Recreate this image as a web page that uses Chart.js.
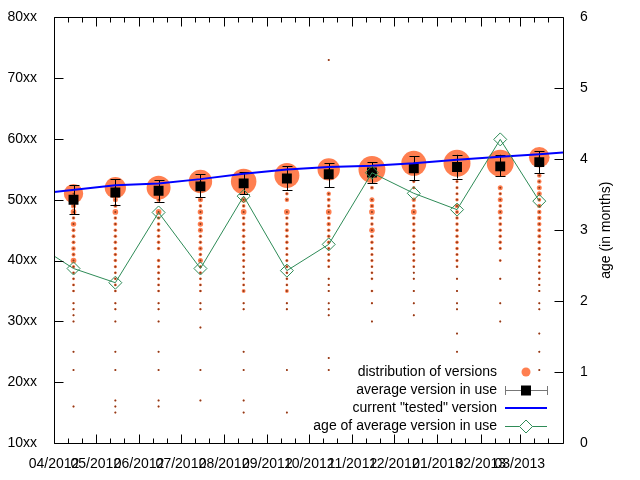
<!DOCTYPE html>
<html>
<head>
<meta charset="utf-8">
<script src="https://cdn.jsdelivr.net/npm/chart.js@4.4.0/dist/chart.umd.min.js"></script>
<style>
  html, body { margin: 0; padding: 0; background: #fff; }
</style>
</head>
<body>
<canvas id="chart" width="640" height="480"></canvas>
<script>
// x axis: one major tick per month
const monthStarts = ['2012-04-01', '2012-05-01', '2012-06-01', '2012-07-01', '2012-08-01', '2012-09-01',
  '2012-10-01', '2012-11-01', '2012-12-01', '2013-01-01', '2013-02-01', '2013-03-01'];
const monthLabels = ['04/2012', '05/2012', '06/2012', '07/2012', '08/2012', '09/2012',
  '10/2012', '11/2012', '12/2012', '01/2013', '02/2013', '03/2013'];

// one sample per month
const sampleDates = ['2012-04-15', '2012-05-15', '2012-06-15', '2012-07-15', '2012-08-15', '2012-09-15',
  '2012-10-15', '2012-11-15', '2012-12-15', '2013-01-15', '2013-02-15', '2013-03-15'];

// average version in use (+ spread)
const avgVersion = [50.0, 51.2, 51.5, 52.2, 52.7, 53.5, 54.2, 54.5, 55.2, 55.4, 55.5, 56.2];
const avgLow     = [47.6, 49.1, 49.7, 50.4, 50.9, 51.6, 52.1, 52.7, 53.2, 53.5, 53.9, 54.4];
const avgHigh    = [52.4, 53.4, 53.2, 54.2, 54.5, 55.5, 56.0, 56.2, 57.2, 57.4, 57.4, 58.0];

// age of average version in use (months), first sample lies left of the plot
const ageDates = ['2012-03-15'].concat(sampleDates);
const ageMonths = [2.85, 2.46, 2.26, 3.25, 2.46, 3.48, 2.43, 2.80, 3.81, 3.52, 3.29, 4.28, 3.41];

// current "tested" version
const testedDates = ['2012-04-01', '2012-05-15', '2012-06-15', '2012-07-15', '2012-08-15', '2012-09-15',
  '2012-10-15', '2012-11-15', '2012-12-15', '2013-01-15', '2013-02-15', '2013-03-15', '2013-04-01'];
const testedVersion = [51.3, 52.4, 52.7, 53.4, 54.3, 55.0, 55.4, 55.6, 56.0, 56.6, 57.1, 57.5, 57.8];

// distribution of versions per month: version and share
const distVersions = [
  [51, 50, 49, 48, 47, 46, 45, 44, 43, 42, 41, 40, 39, 38, 37, 36, 35, 33, 32, 31, 30, 25, 22, 16],
  [52, 50, 49, 48, 47, 46, 45, 44, 43, 42, 41, 40, 39, 38, 37, 36, 35, 33, 32, 30, 25, 22, 17, 16, 15],
  [52, 50, 48, 47, 46, 45, 44, 43, 42, 40, 39, 38, 37, 36, 35, 33, 32, 30, 25, 22, 17, 16],
  [53, 50, 49, 48, 47, 46, 45, 44, 43, 42, 41, 40, 39, 38, 37, 36, 35, 33, 32, 29, 22, 17],
  [53, 50, 49, 48, 47, 46, 45, 44, 43, 42, 41, 40, 39, 38, 37, 36, 35, 33, 32, 25, 22, 17, 15],
  [54, 51, 50, 48, 47, 46, 45, 44, 43, 42, 41, 40, 39, 38, 37, 36, 35, 33, 32, 22, 15],
  [73, 55, 51, 50, 49, 48, 47, 46, 45, 44, 43, 42, 41, 40, 39, 37, 36, 35, 33, 32, 31, 24, 22],
  [55, 52, 50, 49, 48, 47, 46, 45, 44, 43, 42, 41, 40, 39, 38, 37, 35, 33, 30],
  [56, 53, 52, 50, 49, 48, 47, 46, 45, 44, 43, 42, 41, 40, 39, 38, 37, 35, 33, 31],
  [56, 53, 52, 51, 50, 49, 48, 47, 46, 45, 44, 43, 42, 41, 40, 39, 37, 35, 33, 32, 28, 25],
  [56, 52, 51, 50, 49, 48, 47, 46, 45, 44, 43, 42, 40, 37, 33, 30],
  [57, 54, 53, 52, 51, 50, 49, 48, 47, 46, 45, 44, 43, 42, 41, 40, 39, 38, 37, 36, 35, 33, 32, 28, 25, 22]
];
const distShares = [
  [15, 1.3, 1.0, 1.3, 0.5, 1.2, 0.6, 0.6, 0.6, 0.8, 0.6, 1.3, 0.4, 0.3, 0.3, 0.3, 0.3, 0.2, 0.2, 0.15, 0.15, 0.1, 0.1, 0.1],
  [18, 1.0, 0.6, 1.3, 0.5, 0.6, 0.5, 0.5, 0.5, 0.5, 0.5, 0.5, 0.4, 0.3, 0.3, 0.3, 0.3, 0.2, 0.2, 0.15, 0.1, 0.1, 0.1, 0.1, 0.1],
  [23, 0.8, 1.3, 0.5, 0.5, 0.5, 0.5, 0.5, 0.5, 0.5, 0.4, 0.4, 0.3, 0.3, 0.3, 0.2, 0.2, 0.15, 0.1, 0.1, 0.1, 0.1],
  [22, 1.0, 0.5, 1.2, 0.6, 1.2, 1.0, 0.5, 0.5, 0.8, 0.5, 1.0, 0.4, 0.4, 0.3, 0.3, 0.3, 0.2, 0.2, 0.1, 0.1, 0.1],
  [26, 1.3, 0.5, 1.3, 0.5, 0.5, 0.5, 0.5, 0.5, 0.5, 0.4, 0.4, 0.3, 0.3, 0.3, 0.3, 0.6, 0.2, 0.2, 0.1, 0.1, 0.1, 0.1],
  [25, 0.5, 0.8, 1.3, 0.5, 0.5, 0.6, 0.5, 0.5, 0.4, 0.4, 0.4, 0.4, 0.3, 0.3, 0.3, 0.6, 0.2, 0.2, 0.1, 0.1],
  [0.1, 20, 0.8, 0.6, 0.5, 1.3, 0.5, 0.8, 0.5, 0.5, 0.5, 0.4, 0.4, 0.4, 0.3, 0.2, 0.2, 0.2, 0.15, 0.15, 0.15, 0.1, 0.1],
  [29, 0.6, 1.0, 0.8, 1.3, 0.5, 0.5, 1.2, 0.5, 0.5, 0.4, 0.4, 0.4, 0.3, 0.3, 0.3, 0.3, 0.2, 0.1],
  [25, 0.4, 0.4, 0.8, 0.5, 1.3, 0.5, 0.5, 0.5, 0.5, 0.4, 0.4, 0.3, 0.4, 0.3, 0.15, 0.2, 0.2, 0.15, 0.15],
  [29, 0.4, 0.4, 0.4, 0.5, 0.8, 0.6, 0.5, 0.5, 0.5, 0.5, 0.5, 0.5, 0.4, 0.4, 0.3, 0.2, 0.2, 0.15, 0.15, 0.1, 0.1],
  [29, 1.0, 0.5, 1.0, 0.5, 1.0, 0.5, 0.6, 0.5, 0.5, 0.5, 0.4, 0.3, 0.2, 0.15, 0.1],
  [17, 0.8, 0.8, 1.0, 1.0, 0.6, 0.8, 0.8, 0.8, 0.8, 0.6, 0.6, 0.5, 0.5, 0.4, 0.4, 0.3, 0.3, 0.3, 0.2, 0.2, 0.15, 0.15, 0.1, 0.1, 0.1]
];

const legendLabels = ['distribution of versions', 'average version in use',
  'current "tested" version', 'age of average version in use'];
const y2Title = 'age (in months)';

const CORAL = '#ff7f50';
const DOT = '#8b3a1a';
const GREEN = '#2e8b57';
const BLUE = '#0000ff';
const FONT = '14px "Liberation Sans", Arial, sans-serif';

const DAY0 = Date.UTC(2012, 3, 1);
function dayOf(s) {
  const [y, m, d] = s.split('-').map(Number);
  return (Date.UTC(y, m - 1, d) - DAY0) / 86400000;
}

// build point lists for the distribution
const distCircles = [];
const distDots = [];
sampleDates.forEach((d, i) => {
  const x = dayOf(d);
  distVersions[i].forEach((v, j) => {
    distCircles.push({ x, y: v, r: Math.max(0.9, 2.5 * Math.sqrt(distShares[i][j])) });
    distDots.push({ x, y: v });
  });
});

const avgPoints = sampleDates.map((d, i) => ({ x: dayOf(d), y: avgVersion[i] }));
const agePoints = ageDates.map((d, i) => ({ x: dayOf(d), y: ageMonths[i] }));
const testedPoints = testedDates.map((d, i) => ({ x: dayOf(d), y: testedVersion[i] }));

// error bars for the average version
const errorBars = {
  id: 'errorBars',
  afterDatasetDraw(chart, args) {
    const ds = chart.data.datasets[args.index];
    if (!ds.errLow) return;
    const { ctx } = chart;
    const xs = chart.scales.x, ys = chart.scales.y;
    ctx.save();
    ctx.strokeStyle = '#000';
    ctx.lineWidth = 1;
    ds.data.forEach((p, i) => {
      const px = Math.round(xs.getPixelForValue(p.x)) + 0.5;
      const lo = ys.getPixelForValue(ds.errLow[i]);
      const hi = ys.getPixelForValue(ds.errHigh[i]);
      ctx.beginPath();
      ctx.moveTo(px, lo); ctx.lineTo(px, hi);
      ctx.moveTo(px - 5, Math.round(lo) + 0.5); ctx.lineTo(px + 5, Math.round(lo) + 0.5);
      ctx.moveTo(px - 5, Math.round(hi) + 0.5); ctx.lineTo(px + 5, Math.round(hi) + 0.5);
      ctx.stroke();
    });
    ctx.restore();
  }
};

// gnuplot-like frame, inward ticks, key and y2 title
const frame = {
  id: 'frame',
  afterDraw(chart) {
    const { ctx, chartArea: a } = chart;
    const xs = chart.scales.x, ys = chart.scales.y, y2 = chart.scales.y2;
    const L = Math.round(a.left) + 0.5, R = Math.round(a.right) + 0.5;
    const T = Math.round(a.top) + 0.5, B = Math.round(a.bottom) + 0.5;
    ctx.save();
    ctx.strokeStyle = '#000';
    ctx.lineWidth = 1;
    ctx.beginPath();
    ctx.rect(L, T, R - L, B - T);
    // x ticks, bottom and mirrored on top
    monthStarts.forEach(d => {
      const day = dayOf(d);
      [[day, 9], [day + 10, 5], [day + 20, 5]].forEach(([v, len]) => {
        const px = Math.round(xs.getPixelForValue(v)) + 0.5;
        ctx.moveTo(px, B); ctx.lineTo(px, B - len);
        ctx.moveTo(px, T); ctx.lineTo(px, T + len);
      });
    });
    ys.ticks.forEach(t => {
      const py = Math.round(ys.getPixelForValue(t.value)) + 0.5;
      ctx.moveTo(L, py); ctx.lineTo(L + 9, py);
    });
    y2.ticks.forEach(t => {
      const py = Math.round(y2.getPixelForValue(t.value)) + 0.5;
      ctx.moveTo(R, py); ctx.lineTo(R - 9, py);
    });
    ctx.stroke();

    // y2 title
    ctx.font = FONT;
    ctx.fillStyle = '#000';
    ctx.textAlign = 'center';
    ctx.textBaseline = 'middle';
    ctx.save();
    ctx.translate(606, (a.top + a.bottom) / 2);
    ctx.rotate(-Math.PI / 2);
    ctx.fillText(y2Title, 0, 0);
    ctx.restore();

    // key
    const rows = [372, 390, 408, 426];
    const sx0 = 505, sx1 = 547, sc = 526;
    ctx.textAlign = 'right';
    legendLabels.forEach((t, i) => ctx.fillText(t, 497, rows[i]));

    ctx.fillStyle = CORAL;
    ctx.beginPath();
    ctx.arc(sc, rows[0], 4.5, 0, Math.PI * 2);
    ctx.fill();

    ctx.strokeStyle = '#777';
    ctx.beginPath();
    ctx.moveTo(sx0, rows[1] + 0.5); ctx.lineTo(sx1, rows[1] + 0.5);
    ctx.moveTo(sx0 + 0.5, rows[1] - 4); ctx.lineTo(sx0 + 0.5, rows[1] + 5);
    ctx.moveTo(sx1 + 0.5, rows[1] - 4); ctx.lineTo(sx1 + 0.5, rows[1] + 5);
    ctx.stroke();
    ctx.fillStyle = '#000';
    ctx.fillRect(sc - 5, rows[1] - 4.5, 10, 10);

    ctx.strokeStyle = BLUE;
    ctx.lineWidth = 2;
    ctx.beginPath();
    ctx.moveTo(sx0, rows[2]); ctx.lineTo(sx1, rows[2]);
    ctx.stroke();

    ctx.strokeStyle = GREEN;
    ctx.lineWidth = 1;
    ctx.beginPath();
    ctx.moveTo(sx0, rows[3] + 0.5); ctx.lineTo(sc - 6.5, rows[3] + 0.5);
    ctx.moveTo(sc + 6.5, rows[3] + 0.5); ctx.lineTo(sx1, rows[3] + 0.5);
    ctx.moveTo(sc, rows[3] - 6); ctx.lineTo(sc + 6.5, rows[3] + 0.5);
    ctx.lineTo(sc, rows[3] + 7); ctx.lineTo(sc - 6.5, rows[3] + 0.5);
    ctx.closePath();
    ctx.stroke();
    ctx.restore();
  }
};

Chart.defaults.font.family = '"Liberation Sans", Arial, sans-serif';
Chart.defaults.font.size = 14;
Chart.defaults.color = '#000';

new Chart(document.getElementById('chart'), {
  type: 'scatter',
  data: {
    datasets: [
      {
        type: 'line',
        label: legendLabels[3],
        data: agePoints,
        yAxisID: 'y2',
        borderColor: GREEN,
        borderWidth: 1,
        pointStyle: 'rectRot',
        pointRadius: 6.5,
        pointBorderColor: GREEN,
        pointBorderWidth: 1,
        pointBackgroundColor: 'rgba(0,0,0,0)',
        tension: 0,
        clip: 0,
        order: 0
      },
      {
        type: 'line',
        label: legendLabels[2],
        data: testedPoints,
        yAxisID: 'y',
        borderColor: BLUE,
        borderWidth: 2,
        pointRadius: 0,
        tension: 0,
        clip: 0,
        order: 1
      },
      {
        type: 'scatter',
        label: legendLabels[1],
        data: avgPoints,
        errLow: avgLow,
        errHigh: avgHigh,
        yAxisID: 'y',
        pointStyle: 'rect',
        pointRadius: 7,
        backgroundColor: '#000',
        borderColor: '#000',
        borderWidth: 0,
        order: 2
      },
      {
        type: 'scatter',
        label: 'version dots',
        data: distDots,
        yAxisID: 'y',
        pointRadius: 1,
        backgroundColor: DOT,
        borderWidth: 0,
        order: 3
      },
      {
        type: 'bubble',
        label: legendLabels[0],
        data: distCircles,
        yAxisID: 'y',
        backgroundColor: CORAL,
        borderWidth: 0,
        order: 4
      }
    ]
  },
  options: {
    responsive: false,
    animation: false,
    events: [],
    layout: { padding: { top: 17, left: 0, right: 0, bottom: 0 } },
    plugins: { legend: { display: false }, tooltip: { enabled: false } },
    scales: {
      x: {
        type: 'linear',
        position: 'bottom',
        min: 0,
        max: 365,
        grid: { display: false },
        border: { display: false },
        afterBuildTicks: s => { s.ticks = monthStarts.map(d => ({ value: dayOf(d) })); },
        afterFit: s => { s.height = 37; },
        ticks: {
          autoSkip: false,
          maxRotation: 0,
          minRotation: 0,
          padding: 5,
          callback: (v, i) => monthLabels[i]
        }
      },
      y: {
        type: 'linear',
        position: 'left',
        min: 10,
        max: 80,
        grid: { display: false },
        border: { display: false },
        afterFit: s => { s.width = 54; },
        ticks: { stepSize: 10, padding: 9, callback: v => v + 'xx' }
      },
      y2: {
        type: 'linear',
        position: 'right',
        min: 0,
        max: 6,
        grid: { display: false },
        border: { display: false },
        afterFit: s => { s.width = 77; },
        ticks: { stepSize: 1, padding: 9 }
      }
    }
  },
  plugins: [errorBars, frame]
});
</script>
</body>
</html>
